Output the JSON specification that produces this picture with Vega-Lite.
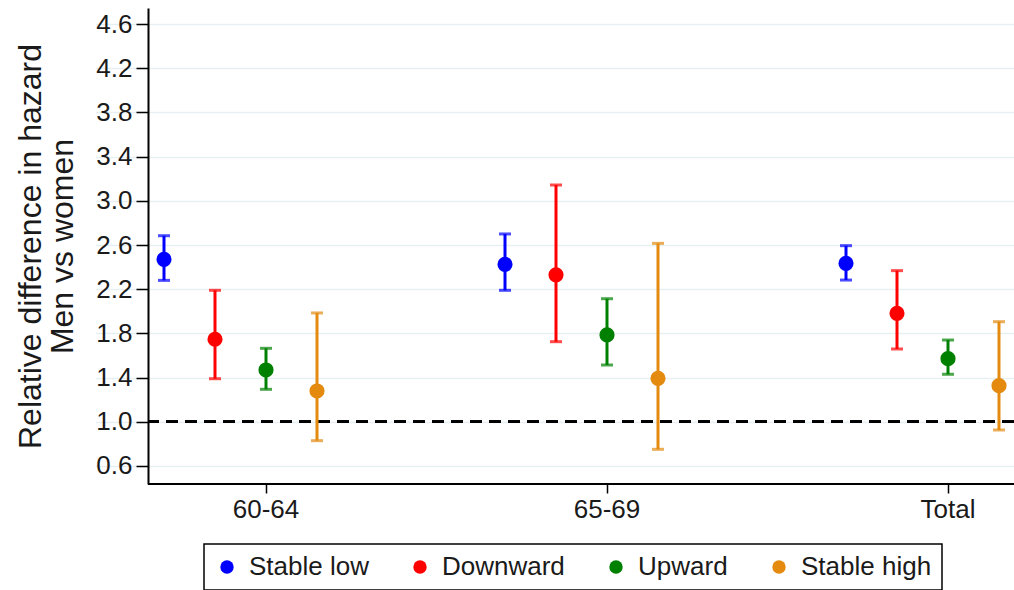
{
  "$schema": "https://vega.github.io/schema/vega-lite/v6.json",
  "autosize": "none",
  "width": 866,
  "height": 476,
  "padding": {"left": 148, "top": 8, "right": 0, "bottom": 106},
  "background": "white",
  "config": {
    "view": {"stroke": null},
    "font": "Liberation Sans",
    "axis": {"domainColor": "black", "domainWidth": 2, "tickColor": "black", "tickWidth": 1.5, "tickSize": 12, "labelFont": "Liberation Sans", "labelColor": "#1a1a1a", "titleFont": "Liberation Sans", "titleColor": "#1a1a1a", "titleFontWeight": "normal"}
  },
  "data": {"values": [
    {"age": "60-64", "group": "Stable low", "est": 2.47, "lo": 2.28, "hi": 2.684},
    {"age": "60-64", "group": "Downward", "est": 1.747, "lo": 1.39, "hi": 2.19},
    {"age": "60-64", "group": "Upward", "est": 1.469, "lo": 1.294, "hi": 1.665},
    {"age": "60-64", "group": "Stable high", "est": 1.279, "lo": 0.829, "hi": 1.985},
    {"age": "65-69", "group": "Stable low", "est": 2.425, "lo": 2.19, "hi": 2.70},
    {"age": "65-69", "group": "Downward", "est": 2.33, "lo": 1.725, "hi": 3.143},
    {"age": "65-69", "group": "Upward", "est": 1.786, "lo": 1.514, "hi": 2.114},
    {"age": "65-69", "group": "Stable high", "est": 1.393, "lo": 0.751, "hi": 2.615},
    {"age": "Total", "group": "Stable low", "est": 2.434, "lo": 2.283, "hi": 2.594},
    {"age": "Total", "group": "Downward", "est": 1.982, "lo": 1.659, "hi": 2.368},
    {"age": "Total", "group": "Upward", "est": 1.571, "lo": 1.43, "hi": 1.74},
    {"age": "Total", "group": "Stable high", "est": 1.327, "lo": 0.926, "hi": 1.906}
  ]},
  "encoding": {
    "x": {"field": "age", "type": "nominal",
      "scale": {"type": "band", "domain": ["60-64", "65-69", "Total"], "range": [-52.5, 970.5], "paddingInner": 0, "paddingOuter": 0},
      "axis": {"title": null, "domain": false, "labelAngle": 0, "labelPadding": 3, "labelFontSize": 26, "tickSize": 9, "ticks": true, "grid": false}},
    "xOffset": {"field": "group", "type": "nominal",
      "scale": {"type": "point", "domain": ["Stable low", "Downward", "Upward", "Stable high", "_"], "range": [68.5, 272.5], "padding": 0}},
    "color": {"field": "group", "type": "nominal",
      "scale": {"domain": ["Stable low", "Downward", "Upward", "Stable high"], "range": ["#0000FF", "#FF0000", "#008000", "#E38A0F"]},
      "legend": {"title": null, "orient": "none", "legendX": 56, "legendY": 536, "direction": "horizontal", "columns": 4,
        "strokeColor": "black", "padding": 10, "symbolType": "circle", "symbolSize": 180, "symbolStrokeWidth": 0, "symbolOpacity": 1,
        "labelFont": "Liberation Sans", "labelFontSize": 26, "labelColor": "#1a1a1a", "labelOffset": 9, "columnPadding": 38,
        "encode": {"legend": {"update": {"strokeWidth": {"value": 1.5}}}}}}
  },
  "layer": [
    {
      "mark": {"type": "rule", "color": "black", "strokeWidth": 2},
      "encoding": {"x": null, "xOffset": null, "color": null, "y": {"datum": 0.437, "type": "quantitative", "scale": {"domain": [0.437, 4.745], "nice": false, "zero": false},
        "axis": {"values": [0.6, 1.0, 1.4, 1.8, 2.2, 2.6, 3.0, 3.4, 3.8, 4.2, 4.6], "format": ".1f", "grid": true, "gridColor": "#E6EFF1", "gridWidth": 1.5, "labelPadding": 4, "labelFontSize": 26,
          "title": ["Relative difference in hazard", "Men vs women"], "titleFontSize": 32, "titleLineHeight": 32, "titlePadding": 16}}}
    },
    {
      "mark": {"type": "rule", "color": "black", "strokeWidth": 2, "strokeDash": [12, 7]},
      "encoding": {"x": null, "xOffset": null, "color": null, "y": {"datum": 1.0, "type": "quantitative"}}
    },
    {
      "mark": {"type": "rule", "strokeWidth": 3},
      "encoding": {"y": {"field": "lo", "type": "quantitative"}, "y2": {"field": "hi"}}
    },
    {
      "mark": {"type": "tick", "orient": "horizontal", "size": 12, "thickness": 3},
      "encoding": {"y": {"field": "lo", "type": "quantitative"}}
    },
    {
      "mark": {"type": "tick", "orient": "horizontal", "size": 12, "thickness": 3},
      "encoding": {"y": {"field": "hi", "type": "quantitative"}}
    },
    {
      "mark": {"type": "point", "filled": true, "opacity": 1, "size": 230, "shape": "circle"},
      "encoding": {"y": {"field": "est", "type": "quantitative"}}
    }
  ]
}
